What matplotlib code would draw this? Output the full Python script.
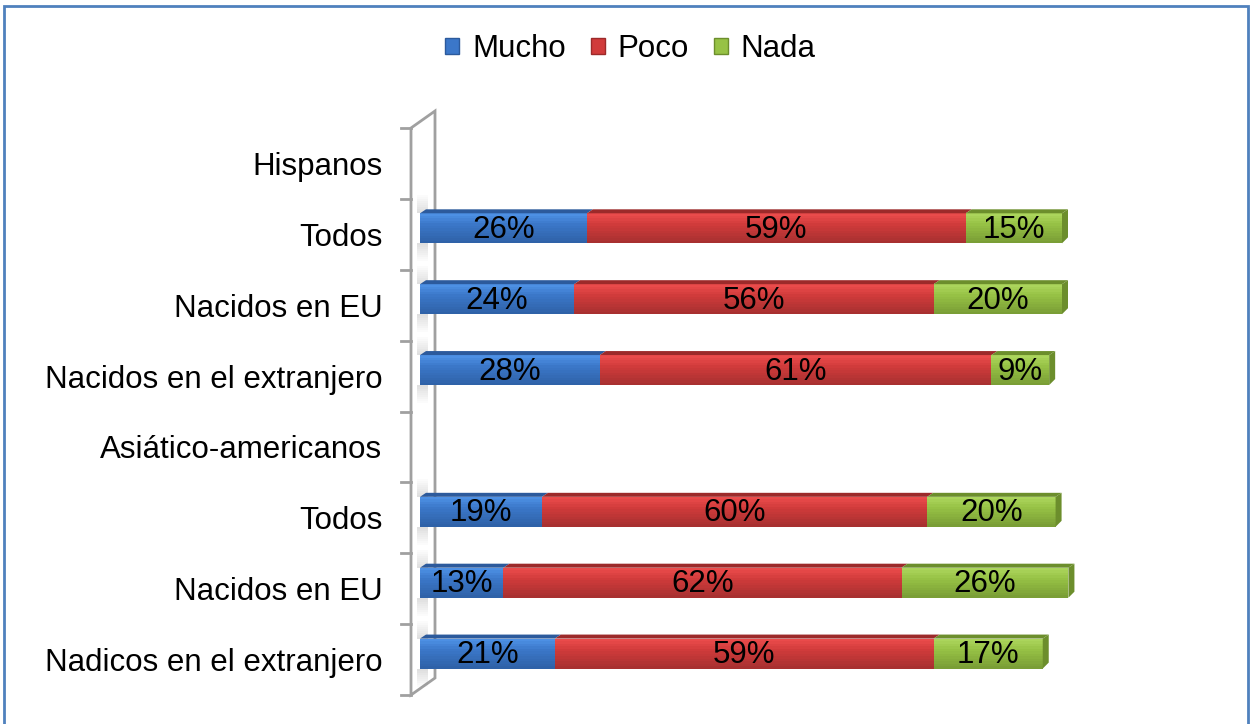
import matplotlib.pyplot as plt
from matplotlib.patches import Polygon, Rectangle
from matplotlib.colors import to_rgb

# Data
categories = ['Hispanos', 'Todos', 'Nacidos en EU', 'Nacidos en el extranjero',
              'Asiático-americanos', 'Todos', 'Nacidos en EU', 'Nadicos en el extranjero']
series = ['Mucho', 'Poco', 'Nada']
mucho = [None, 26, 24, 28, None, 19, 13, 21]
poco = [None, 59, 56, 61, None, 60, 62, 59]
nada = [None, 15, 20, 9, None, 20, 26, 17]

# Colours: front face, highlight, bottom, top face
front = ['#3B77C9', '#D13B3B', '#97C245']
light = ['#4D90E4', '#EA4B4B', '#ABD55C']
dark = ['#2F62A8', '#A83030', '#7A9E36']
top = ['#2C5A9C', '#9C2A2A', '#6C8E2C']


def mix(c1, c2, t):
    a, b = to_rgb(c1), to_rgb(c2)
    return tuple(a[k] * (1 - t) + b[k] * t for k in range(3))


plt.rcParams['font.family'] = ['Liberation Sans', 'DejaVu Sans']
fs = 22.5

fig = plt.figure(figsize=(12.53, 7.24), dpi=100)
fig.patch.set_facecolor('white')

# outer border
fig.patches.append(Rectangle((4 / 1253, -0.02), 1244 / 1253, 1 - 6 / 724 + 0.02,
                             transform=fig.transFigure, fill=False,
                             edgecolor='#4F81BD', linewidth=2))

ax = fig.add_axes([420 / 1253, 29 / 724, 642 / 1253, 567 / 724])
ax.set_facecolor('none')
ax.set_xlim(0, 100)
ax.set_ylim(7.5, -0.5)

# pixel -> data units
px = 100 / 642
py = 8 / 567

# 3D wall on the left
fx, bx = -9 * px, 15 * px
dy = 17 * py
wall = [(fx, -0.5), (bx, -0.5 - dy), (bx, 7.5 - dy), (fx, 7.5)]
ax.add_patch(Polygon(wall, closed=True, facecolor='white', edgecolor='#A0A0A0',
                     linewidth=2, clip_on=False, zorder=1))
for k in range(len(categories) + 1):
    ax.plot([fx - 10 * px, fx], [-0.5 + k, -0.5 + k], color='#A0A0A0',
            linewidth=2, clip_on=False, zorder=1)

# bars
bh = 30 * py
off = 6 * py
tdx, tdy = 6 * px, 4 * py
values = [mucho, poco, nada]
nstrip = 12
for i in range(len(categories)):
    if mucho[i] is None:
        continue
    yc = i - off
    ytop = yc - bh / 2

    # shadow of the bar on the wall
    for j in range(9):
        a = 0.22 * (1 - j / 9)
        for sgn in (-1, 1):
            y0 = ytop - 2 * (j + 1) * py if sgn < 0 else ytop + bh + 2 * j * py
            ax.add_patch(Rectangle((-3 * px, y0), 11 * px, 2 * py,
                                   facecolor='#707070', alpha=a, edgecolor='none',
                                   zorder=1.5, clip_on=False))

    left = 0
    for s in range(3):
        v = values[s][i]
        # gradient front face
        for j in range(nstrip):
            t = j / (nstrip - 1)
            if t < 0.35:
                c = mix(light[s], front[s], t / 0.35)
            else:
                c = mix(front[s], dark[s], (t - 0.35) / 0.65)
            ax.barh(ytop + bh * (j + 0.5) / nstrip, v, left=left, height=bh / nstrip * 1.05,
                    color=c, zorder=3, clip_on=False, linewidth=0)
        ax.add_patch(Polygon([(left, ytop), (left + v, ytop),
                              (left + v + tdx, ytop - tdy), (left + tdx, ytop - tdy)],
                             closed=True, facecolor=top[s], edgecolor='none',
                             zorder=3, clip_on=False))
        ax.text(left + v / 2, yc + 1.5 * py, f'{v}%', ha='center', va='center',
                fontsize=fs, color='black', zorder=5)
        left += v
    # right side face of the last segment
    ax.add_patch(Polygon([(left, ytop), (left + tdx, ytop - tdy),
                          (left + tdx, ytop + bh - tdy - 2 * py), (left, ytop + bh)],
                         closed=True, facecolor=top[2], edgecolor='none',
                         zorder=3, clip_on=False))

ax.set_yticks(range(len(categories)))
ax.set_yticklabels(categories, fontsize=fs)
ax.tick_params(axis='y', length=0, pad=27)
ax.set_xticks([])
for sp in ax.spines.values():
    sp.set_visible(False)

# legend
handles = [Rectangle((0, 0), 1, 1, facecolor=front[s], edgecolor=top[s]) for s in range(3)]
fig.legend(handles, series, loc='center', bbox_to_anchor=(0.503, 0.932), ncol=3,
           frameon=False, fontsize=fs, handlelength=0.45, handleheight=0.45,
           handletextpad=0.4, columnspacing=0.8)

fig.savefig('out.png', dpi=100)
